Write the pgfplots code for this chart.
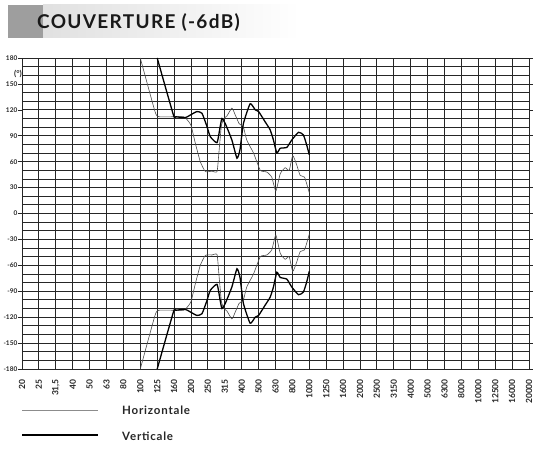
\documentclass[border=0pt]{standalone}
\usepackage{pgfplots}
\pgfplotsset{compat=1.18}
\usepackage{fontspec}
\setmainfont{Lato}
\begin{document}
\begin{tikzpicture}
\path[use as bounding box] (0pt,0pt) rectangle (542pt,450pt);
% title band
\shade[left color=black!12, right color=white] (43pt,412pt) rectangle (300pt,445pt);
\fill[black!38] (8pt,412pt) rectangle (43pt,445pt);
\node[anchor=base west, inner sep=0pt, font=\fontsize{19}{21}\selectfont\bfseries\addfontfeatures{LetterSpace=7}, text=black!90] at (37pt,421pt) {COUVERTURE (-6dB)};
\begin{axis}[
  at={(22pt,81pt)}, anchor=south west,
  scale only axis, width=507pt, height=311pt,
  xmin=0, xmax=30, ymin=-180, ymax=180,
  xtick={0,...,30},
  xticklabels={20,25,{31,5},40,50,63,80,100,125,160,200,250,315,400,500,630,800,1000,1250,1600,2000,2500,3150,4000,5000,6300,8000,10000,12500,16000,20000},
  ytick={-180,-150,...,180},
  minor ytick={-170,-160,-140,-130,-110,-100,-80,-70,-50,-40,-20,-10,10,20,40,50,70,80,100,110,130,140,160,170},
  grid=both,
  major grid style={black!85, line width=0.8pt},
  minor grid style={black!85, line width=0.8pt},
  axis line style={black!85, line width=0.8pt},
  tick align=outside,
  major tick length=4pt,
  minor tick length=0pt,
  xtick style={draw=none},
  ytick style={black!85, line width=0.5pt},
  /pgf/number format/assume math mode=true,
  xticklabel style={rotate=90, anchor=east, font=\fontsize{8.5}{9}\selectfont\bfseries, text=black!85, inner sep=1pt},
  yticklabel style={font=\fontsize{6.5}{7}\selectfont\bfseries, text=black!85, inner sep=0.5pt},
  xticklabel shift=5pt,
  clip=false,
]
% Horizontale (thin)
\addplot[black!70, line width=0.6pt, smooth, tension=0.3] coordinates {
(7.0,180) (7.87,118) (8.1,112) (9.0,112) (9.55,112) (9.75,109) (10.0,102) (10.26,81) (10.55,60) (10.85,48.5) (11.24,49) (11.54,48.5) (11.65,70) (11.8,102) (11.95,110) (12.13,113) (12.42,122) (12.62,114) (12.85,104) (13.1,100) (13.3,85) (13.7,70) (14.1,50) (14.49,48) (14.78,42) (15.02,26) (15.28,46) (15.57,53) (15.81,50) (16.02,67) (16.26,56) (16.46,44) (16.72,42) (17.0,24)
};
\addplot[black!70, line width=0.6pt, smooth, tension=0.3] coordinates {
(7.0,-180) (7.87,-118) (8.1,-112) (9.0,-112) (9.55,-112) (9.75,-109) (10.0,-102) (10.26,-81) (10.55,-60) (10.85,-48.5) (11.24,-48) (11.54,-47.5) (11.65,-70) (11.8,-102) (11.95,-110) (12.13,-113) (12.42,-122) (12.62,-114) (12.85,-104) (13.1,-100) (13.3,-85) (13.7,-70) (14.1,-50) (14.49,-48) (14.78,-42) (15.02,-25) (15.28,-46) (15.57,-53) (15.81,-50) (16.02,-67) (16.26,-56) (16.46,-44) (16.72,-42) (17.0,-24)
};
% Verticale (thick)
\addplot[black, line width=1.3pt, smooth, tension=0.3] coordinates {
(8.0,180) (8.96,114) (9.1,112) (9.67,111) (9.96,114) (10.35,118) (10.65,116) (10.94,101) (11.14,89) (11.54,82) (11.73,101) (11.83,110) (12.03,104) (12.42,85) (12.72,64) (12.9,74) (13.1,104) (13.5,127) (13.8,120) (14.0,118) (14.39,106) (14.68,97) (14.88,85) (15.08,70) (15.28,75.5) (15.67,76.5) (15.96,85) (16.36,94) (16.65,91) (16.85,79) (17.0,68)
};
\addplot[black, line width=1.3pt, smooth, tension=0.3] coordinates {
(8.0,-180) (8.96,-114) (9.1,-112) (9.67,-111) (9.96,-114) (10.35,-118) (10.65,-116) (10.94,-101) (11.14,-89) (11.54,-82) (11.73,-101) (11.83,-110) (12.03,-104) (12.42,-85) (12.72,-64) (12.9,-74) (13.1,-104) (13.5,-127) (13.8,-120) (14.0,-118) (14.39,-106) (14.68,-97) (14.88,-85) (15.08,-68) (15.28,-74) (15.67,-76) (15.96,-85) (16.36,-94) (16.65,-91) (16.85,-79) (17.0,-67)
};
\node[anchor=east, inner sep=0pt, font=\fontsize{8}{9}\selectfont\bfseries, text=black!85] at (axis cs:0,161) {(°)\hspace{4pt}};
\end{axis}
% legend
\draw[black!45, line width=0.8pt] (22pt,40pt) -- (98pt,40pt);
\draw[black, line width=1.4pt] (22pt,15pt) -- (98pt,15pt);
\node[anchor=west, inner sep=0pt, font=\fontsize{11.5}{13}\selectfont\bfseries\addfontfeatures{LetterSpace=7}, text=black!85] at (122pt,40pt) {Horizontale};
\node[anchor=west, inner sep=0pt, font=\fontsize{11.5}{13}\selectfont\bfseries\addfontfeatures{LetterSpace=7}, text=black!85] at (122pt,14pt) {Verticale};
\end{tikzpicture}
\end{document}
